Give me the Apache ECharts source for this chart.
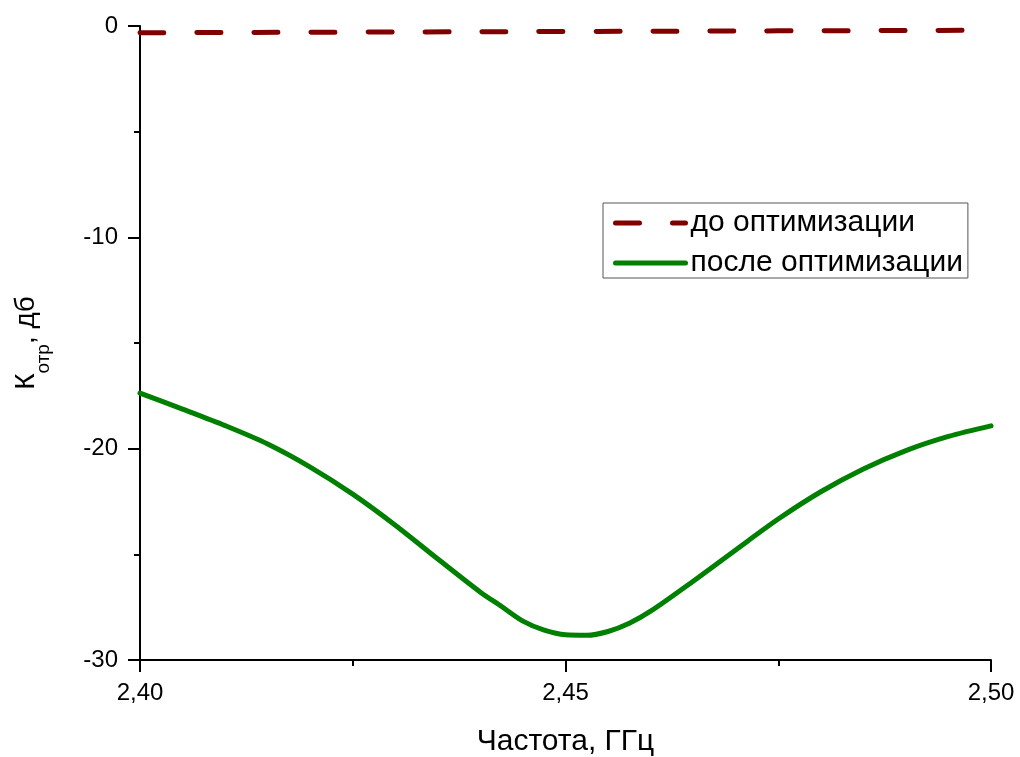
<!DOCTYPE html>
<html>
<head>
<meta charset="utf-8">
<script src="https://cdn.jsdelivr.net/npm/echarts@6/dist/echarts.min.js"></script>
<style>html,body{margin:0;padding:0;background:#fff}#c{width:1020px;height:757px}</style>
</head>
<body>
<div id="c"></div>
<script>
const seriesNames = ['до оптимизации', 'после оптимизации'];
const freqBefore = [2.400, 2.425, 2.450, 2.475, 2.500];
const valBefore  = [-0.32, -0.29, -0.26, -0.23, -0.20];
const freqAfter = [2.400, 2.405, 2.410, 2.415, 2.420, 2.425, 2.430, 2.435, 2.440, 2.4425, 2.445, 2.4475, 2.450, 2.4525, 2.455, 2.4575, 2.460, 2.465, 2.470, 2.475, 2.480, 2.485, 2.490, 2.495, 2.500];
const valAfter  = [-17.37, -18.13, -18.91, -19.78, -20.87, -22.15, -23.62, -25.22, -26.79, -27.47, -28.16, -28.59, -28.81, -28.83, -28.65, -28.26, -27.69, -26.27, -24.79, -23.33, -22.04, -20.96, -20.09, -19.42, -18.92];
const xTitle = 'Частота, ГГц';
const yTitleParts = ['К', 'отр', ', дб'];

const zip = (a, b) => a.map((v, i) => [v, b[i]]);
const chart = echarts.init(document.getElementById('c'), null, {renderer: 'canvas'});
const FONT = 'Arial';
chart.setOption({
  animation: false,
  backgroundColor: '#fff',
  grid: {left: 140, right: 29, top: 26, bottom: 97, outerBoundsMode: 'none', containLabel: false},
  legend: {
    orient: 'vertical', left: 603, top: 203,
    padding: [5, 5, 0, 10], itemGap: 10,
    itemWidth: 70, itemHeight: 30,
    borderColor: '#555', borderWidth: 1, borderRadius: 0,
    itemStyle: {opacity: 0},
    lineStyle: {width: 5, cap: 'round'},
    textStyle: {fontFamily: FONT, fontSize: 30, lineHeight: 30, color: '#000', padding: [0, 0, 0, 0]},
    data: seriesNames
  },
  xAxis: {
    type: 'value', min: 2.40, max: 2.50, interval: 0.05,
    name: xTitle, nameLocation: 'middle', nameGap: 67,
    nameTextStyle: {fontFamily: FONT, fontSize: 30, color: '#000'},
    axisLine: {onZero: false, lineStyle: {color: '#000', width: 2}},
    axisTick: {show: true, inside: false, length: 12, lineStyle: {color: '#000', width: 2}},
    minorTick: {show: true, splitNumber: 2, length: 6, lineStyle: {color: '#000', width: 2}},
    splitLine: {show: false},
    axisLabel: {margin: 21, fontFamily: FONT, fontSize: 24, color: '#000',
      formatter: v => v.toFixed(2).replace('.', ',')}
  },
  yAxis: {
    type: 'value', min: -30, max: 0, interval: 10,
    name: '{a|' + yTitleParts[0] + '}{b|' + yTitleParts[1] + '}{a|' + yTitleParts[2] + '}',
    nameLocation: 'middle', nameGap: 100, nameRotate: 90,
    nameTextStyle: {
      fontFamily: FONT, fontSize: 28, color: '#000',
      rich: {
        a: {fontFamily: FONT, fontSize: 28, color: '#000', lineHeight: 34, verticalAlign: 'bottom'},
        b: {fontFamily: FONT, fontSize: 19, color: '#000', lineHeight: 34, verticalAlign: 'bottom', padding: [0, 0, -13, 0]}
      }
    },
    axisLine: {onZero: false, lineStyle: {color: '#000', width: 2}},
    axisTick: {show: true, inside: false, length: 12, lineStyle: {color: '#000', width: 2}},
    minorTick: {show: true, splitNumber: 2, length: 6, lineStyle: {color: '#000', width: 2}},
    splitLine: {show: false},
    axisLabel: {margin: 22, fontFamily: FONT, fontSize: 24, color: '#000'}
  },
  series: [
    {
      name: seriesNames[0], type: 'line', data: zip(freqBefore, valBefore),
      showSymbol: false, symbol: 'none', smooth: true,
      lineStyle: {color: '#800000', width: 5, type: [24, 33], cap: 'round'},
      itemStyle: {color: '#800000'}, z: 3
    },
    {
      name: seriesNames[1], type: 'line', data: zip(freqAfter, valAfter),
      showSymbol: false, symbol: 'none', smooth: 0.3,
      lineStyle: {color: '#008000', width: 5, cap: 'round', join: 'round'},
      itemStyle: {color: '#008000'}, z: 2
    }
  ]
});
</script>
</body>
</html>
